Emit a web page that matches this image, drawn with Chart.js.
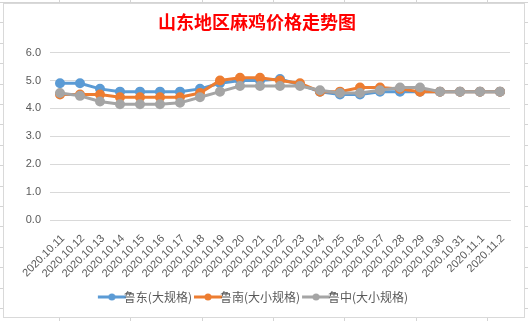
<!DOCTYPE html>
<html>
<head>
<meta charset="utf-8">
<script src="https://cdn.jsdelivr.net/npm/chart.js@4.4.0/dist/chart.umd.min.js"></script>
<style>
  html, body { margin: 0; padding: 0; }
  body {
    width: 528px; height: 321px; overflow: hidden; position: relative;
    background-color: #fff;
    background-image:
      repeating-linear-gradient(to right, transparent 0, transparent 59px, #d4d4d4 59px, #d4d4d4 60px, transparent 60px, transparent 71.3px),
      repeating-linear-gradient(to bottom, transparent 0, transparent 2px, #d4d4d4 2px, #d4d4d4 3px, transparent 3px, transparent 20.4px);
  }
  #box {
    position: absolute; left: 3px; top: 3px; width: 520px; height: 313px;
    border: 1px solid #d9d9d9; background: #fff;
  }
  canvas { display: block; }
</style>
</head>
<body>
<div id="box"><canvas id="priceChart" width="520" height="313"></canvas></div>
<script>
// 日期
const labels = ['2020.10.11', '2020.10.12', '2020.10.13', '2020.10.14', '2020.10.15', '2020.10.16',
    '2020.10.17', '2020.10.18', '2020.10.19', '2020.10.20', '2020.10.21', '2020.10.22', '2020.10.23',
    '2020.10.24', '2020.10.25', '2020.10.26', '2020.10.27', '2020.10.28', '2020.10.29', '2020.10.30',
    '2020.10.31', '2020.11.1', '2020.11.2'];

// 价格 (元/斤)
const ludong = [4.9, 4.9, 4.7, 4.6, 4.6, 4.6, 4.6, 4.7, 4.9, 5.0, 5.0, 5.05, 4.85,
    4.6, 4.5, 4.5, 4.6, 4.6, 4.6, 4.6, 4.6, 4.6, 4.6];
const lunan = [4.5, 4.5, 4.5, 4.4, 4.4, 4.4, 4.4, 4.55, 5.0, 5.1, 5.1, 5.0, 4.9,
    4.6, 4.6, 4.75, 4.75, 4.7, 4.6, 4.6, 4.6, 4.6, 4.6];
const luzhong = [4.55, 4.45, 4.25, 4.15, 4.15, 4.15, 4.2, 4.4, 4.6, 4.8, 4.8, 4.8, 4.8,
    4.65, 4.55, 4.55, 4.65, 4.75, 4.75, 4.6, 4.6, 4.6, 4.6];

const yTicks = [0, 1, 2, 3, 4, 5, 6];

// legend marker: short line with a dot, like Excel
function legendMark(color) {
    const c = document.createElement('canvas');
    c.width = 30;
    c.height = 10;
    const g = c.getContext('2d');
    g.strokeStyle = color;
    g.lineWidth = 3;
    g.beginPath();
    g.moveTo(1, 5);
    g.lineTo(29, 5);
    g.stroke();
    g.fillStyle = color;
    g.beginPath();
    g.arc(15, 5, 3.5, 0, Math.PI * 2);
    g.fill();
    return c;
}

function series(label, data, color, order) {
    return {
        label: label,
        data: data,
        borderColor: color,
        backgroundColor: color,
        pointBackgroundColor: color,
        pointBorderColor: color,
        borderWidth: 3,
        pointRadius: 3.5,
        pointHoverRadius: 4,
        tension: 0,
        order: order,
        pointStyle: 'circle',
        legendMark: legendMark(color)
    };
}

const ctx = document.getElementById('priceChart').getContext('2d');
new Chart(ctx, {
    type: 'line',
    data: {
        labels: labels,
        datasets: [
            series('鲁东(大规格)', ludong, '#5B9BD5', 3),
            series('鲁南(大小规格)', lunan, '#ED7D31', 2),
            series('鲁中(大小规格)', luzhong, '#A5A5A5', 1)
        ]
    },
    options: {
        responsive: false,
        animation: false,
        layout: { padding: { left: 0, right: 14, top: 0, bottom: 4 } },
        plugins: {
            title: {
                display: true,
                text: '山东地区麻鸡价格走势图',
                color: '#FF0000',
                font: { family: '"Noto Sans CJK SC"', size: 18, weight: 'bold' },
                padding: { top: 7, bottom: 20 }
            },
            legend: {
                position: 'bottom',
                labels: {
                    usePointStyle: true,
                    color: '#595959',
                    font: { family: '"Noto Sans CJK SC"', size: 12 },
                    padding: 10,
                    boxWidth: 30,
                    boxHeight: 10,
                    sort: (a, b) => a.datasetIndex - b.datasetIndex,
                    generateLabels: function(chart) {
                        return chart.data.datasets.map((ds, i) => ({
                            text: ds.label,
                            fillStyle: ds.borderColor,
                            strokeStyle: ds.borderColor,
                            fontColor: '#595959',
                            pointStyle: ds.legendMark,
                            lineWidth: 0,
                            hidden: false,
                            datasetIndex: i
                        }));
                    }
                }
            },
            tooltip: { enabled: false }
        },
        scales: {
            x: {
                offset: true,
                grid: { display: false },
                border: { color: '#d9d9d9' },
                ticks: {
                    color: '#595959',
                    font: { family: '"Liberation Sans"', size: 11 },
                    minRotation: 45,
                    maxRotation: 45,
                    autoSkip: false,
                    padding: 4,
                    labelOffset: 3
                },
                afterFit: function(scale) { scale.height = 61; }
            },
            y: {
                min: 0,
                max: 6,
                afterBuildTicks: function(scale) {
                    scale.ticks = yTicks.map(v => ({ value: v }));
                },
                grid: { color: '#d9d9d9', drawTicks: false },
                border: { display: false },
                ticks: {
                    color: '#595959',
                    font: { family: '"Liberation Sans"', size: 11 },
                    padding: 9,
                    callback: v => v.toFixed(1)
                },
                afterFit: function(scale) { scale.width = 46; }
            }
        }
    }
});
</script>
</body>
</html>
